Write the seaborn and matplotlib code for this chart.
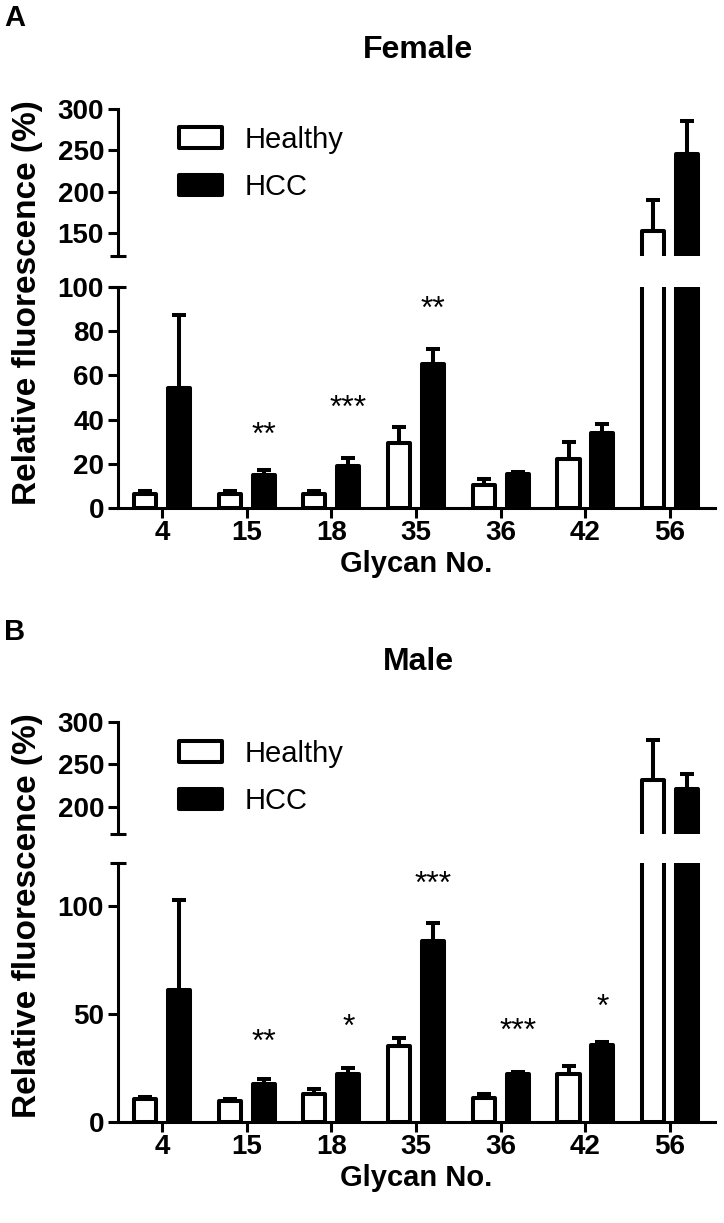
import numpy as np
import pandas as pd
import matplotlib
matplotlib.use("Agg")
import matplotlib.pyplot as plt
import seaborn as sns

# ---------------- data ----------------
glycans = ["4", "15", "18", "35", "36", "42", "56"]
groups = ["Healthy", "HCC"]

female_healthy = [6.5, 6.5, 6.5, 29.5, 10.5, 22.0, 152.0]
female_healthy_err = [1.0, 1.0, 1.0, 7.0, 2.5, 8.0, 38.0]
female_hcc = [54.5, 15.0, 19.0, 65.0, 15.5, 34.0, 246.0]
female_hcc_err = [33.0, 2.0, 3.5, 7.0, 1.0, 4.0, 39.0]
female_stars = ["", "**", "***", "**", "", "", ""]
female_star_y = [0, 35, 47, 92, 0, 0, 0]

male_healthy = [10.5, 9.5, 13.0, 35.0, 11.0, 22.0, 231.0]
male_healthy_err = [1.0, 1.0, 2.0, 4.0, 2.0, 4.0, 47.0]
male_hcc = [61.0, 17.5, 22.0, 84.0, 22.0, 35.5, 221.0]
male_hcc_err = [42.0, 2.5, 3.0, 8.0, 1.0, 1.5, 17.0]
male_stars = ["", "**", "*", "***", "***", "*", ""]
male_star_y = [0, 39, 46, 112, 44, 55, 0]

female_upper_ticks = [150, 200, 250, 300]
female_lower_ticks = [0, 20, 40, 60, 80, 100]
male_upper_ticks = [200, 250, 300]
male_lower_ticks = [0, 50, 100]

# ---------------- style ----------------
sns.set_theme(style="ticks")
plt.rcParams["font.family"] = ["Liberation Sans", "DejaVu Sans"]
plt.rcParams["font.weight"] = "bold"
for k in ["text.color", "axes.labelcolor", "xtick.color", "ytick.color",
          "axes.edgecolor", "xtick.labelcolor", "ytick.labelcolor"]:
    plt.rcParams[k] = "black"

SPINE_LW = 2.2
BAR_LW = 2.9
TICK_FS = 20
STAR_FS = 23
LEG_FS = 21

fig = plt.figure(figsize=(7.24, 12.23), dpi=100)

L, W = 118 / 724, (715 - 118) / 724


def fpos(top_px, bottom_px):
    return [L, (1223 - bottom_px) / 1223, W, (bottom_px - top_px) / 1223]


def make_df(h, c):
    return pd.DataFrame({
        "Glycan": glycans * 2,
        "Group": ["Healthy"] * len(glycans) + ["HCC"] * len(glycans),
        "Value": list(h) + list(c),
    })


def draw_bars(ax, df, errs):
    sns.barplot(data=df, x="Glycan", y="Value", hue="Group", order=glycans,
                hue_order=groups, palette={"Healthy": "white", "HCC": "black"},
                edgecolor="black", linewidth=BAR_LW, width=0.8, gap=0.35,
                errorbar=None, legend=False, saturation=1, ax=ax)
    for cont, err in zip(ax.containers, errs):
        xs, hs = [], []
        for b in cont:
            b.set_joinstyle("round")
            xs.append(b.get_x() + b.get_width() / 2)
            hs.append(b.get_height())
        ax.errorbar(xs, hs, yerr=[np.zeros(len(err)), err], fmt="none",
                    ecolor="black", elinewidth=BAR_LW, capsize=5.2,
                    capthick=BAR_LW, zorder=3)
    ax.set_xlim(-0.52, 6.53)
    ax.set_xlabel("")
    ax.set_ylabel("")


def break_mark(ax, y):
    d = 8 / 597
    ax.plot([-d, d], [y, y], transform=ax.transAxes, color="black",
            lw=SPINE_LW, clip_on=False, solid_capstyle="butt")


def panel(pos_up, pos_lo, h, c, he, ce, up_lim, up_ticks, lo_lim, lo_ticks,
          stars, star_y, title, title_y, letter, letter_y, leg_anchor_y):
    ax_up = fig.add_axes(pos_up)
    ax_lo = fig.add_axes(pos_lo)
    df = make_df(h, c)
    for ax in (ax_up, ax_lo):
        draw_bars(ax, df, [he, ce])
        ax.spines["top"].set_visible(False)
        ax.spines["right"].set_visible(False)
        for s in ax.spines.values():
            s.set_linewidth(SPINE_LW)
            s.set_color("black")
        ax.tick_params(axis="both", width=SPINE_LW, length=7, labelsize=TICK_FS,
                       pad=3, color="black", labelcolor="black")
    ax_up.set_ylim(*up_lim)
    ax_up.set_yticks(up_ticks)
    ax_up.spines["bottom"].set_visible(False)
    ax_up.tick_params(axis="x", bottom=False, labelbottom=False)
    ax_lo.set_ylim(*lo_lim)
    ax_lo.set_yticks(lo_ticks)
    ax_lo.set_xticks(range(len(glycans)))
    ax_lo.set_xticklabels(glycans)
    ax_lo.tick_params(axis="x", pad=1.5)
    break_mark(ax_up, 0)
    break_mark(ax_lo, 1)

    # significance stars on HCC bars
    hcc_cont = ax_lo.containers[1]
    for b, s, y in zip(hcc_cont, stars, star_y):
        if s:
            ax_lo.annotate(s, (b.get_x() + b.get_width() / 2, y),
                           xytext=(0, -0.41 * STAR_FS), textcoords="offset points",
                           ha="center", va="baseline", fontsize=STAR_FS,
                           fontweight="normal", color="black")

    ax_lo.set_xlabel("Glycan No.", fontsize=21, fontweight="bold", labelpad=3)

    leg = ax_up.legend(handles=list(ax_up.containers), labels=groups,
                       loc="upper left", bbox_to_anchor=(0.102, leg_anchor_y),
                       frameon=False, borderpad=0, borderaxespad=0,
                       handlelength=1.47, handleheight=0.72, handletextpad=0.8,
                       labelspacing=0.66,
                       prop={"size": LEG_FS, "weight": "normal"})
    for p in leg.get_patches():
        p.set_joinstyle("round")
        p.set_linewidth(BAR_LW)
    for t in leg.get_texts():
        t.set_color("black")

    fig.text(418 / 724, 1 - title_y / 1223, title, ha="center", va="center",
             fontsize=23, fontweight="bold")
    fig.text(15 / 724, 1 - letter_y / 1223, letter, ha="center", va="center",
             fontsize=21, fontweight="bold")
    top_px = (1 - pos_up[1] - pos_up[3]) * 1223
    bot_px = (1 - pos_lo[1]) * 1223
    fig.text(28 / 724, 1 - ((top_px + bot_px) / 2 - 6) / 1223, "Relative fluorescence (%)",
             rotation=90, ha="center", va="center", fontsize=24, fontweight="bold")
    return ax_up, ax_lo


panel(fpos(109, 256), fpos(287, 508), female_healthy, female_hcc,
      female_healthy_err, female_hcc_err, (122, 300), female_upper_ticks,
      (0, 100), female_lower_ticks, female_stars, female_star_y,
      "Female", 50, "A", 18, 0.885)

panel(fpos(721.7, 834), fpos(863, 1121.7), male_healthy, male_hcc,
      male_healthy_err, male_hcc_err, (168, 300), male_upper_ticks,
      (0, 120), male_lower_ticks, male_stars, male_star_y,
      "Male", 662, "B", 632, 0.838)

fig.savefig("out.png", dpi=100)
